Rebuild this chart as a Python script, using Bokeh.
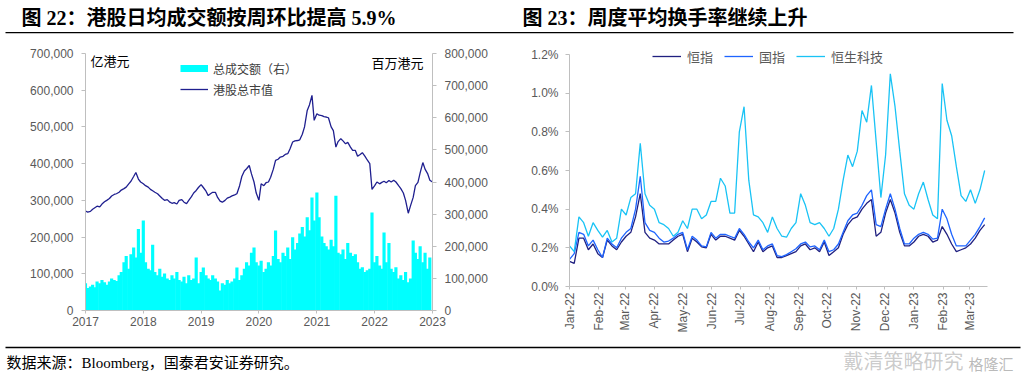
import math
from datetime import datetime
import pandas as pd
from bokeh.plotting import figure
from bokeh.models import (Range1d, LinearAxis, SingleIntervalTicker, FixedTicker,
                          NumeralTickFormatter, PrintfTickFormatter, DatetimeTickFormatter,
                          Legend, LegendItem, Label, BoxAnnotation)
from bokeh.layouts import column, row
from bokeh.embed import file_html
from bokeh.resources import INLINE

# ---------------- data ----------------
title_left = "图 22：港股日均成交额按周环比提高 5.9%"
title_right = "图 23：周度平均换手率继续上升"
source_text = "数据来源：Bloomberg，国泰君安证券研究。"

# HK market cap (亿港元, thousands), semi-monthly from 2017-01-01
mcap_2017 = [271, 268, 270, 276, 280, 284, 282, 290, 296, 300, 305, 312, 316, 318, 322, 328, 332, 336, 345, 352, 365, 376, 358, 350]
mcap_2018 = [345, 340, 336, 330, 326, 322, 318, 312, 305, 300, 302, 296, 292, 294, 290, 300, 302, 295, 291, 300, 310, 320, 327, 335]
mcap_2019 = [343, 335, 325, 313, 318, 322, 322, 308, 298, 295, 300, 306, 309, 312, 315, 318, 340, 365, 380, 386, 395, 372, 350, 320]
mcap_2020 = [300, 345, 340, 348, 350, 363, 385, 409, 412, 418, 420, 425, 427, 440, 459, 462, 463, 465, 480, 500, 545, 560, 586, 518]
mcap_2021 = [536, 532, 531, 528, 527, 525, 500, 490, 445, 460, 468, 462, 454, 458, 445, 436, 436, 420, 425, 430, 420, 410, 400, 330]
mcap_2022 = [340, 350, 345, 349, 352, 348, 354, 350, 355, 350, 340, 332, 320, 300, 265, 285, 308, 340, 349, 375, 403, 385, 373, 355]
mcap_2023 = [350]

# total turnover (百万港元, thousands), semi-monthly from 2017-01-01
turn_2017 = [85, 70, 75, 80, 72, 90, 85, 95, 88, 80, 90, 100, 95, 92, 110, 120, 150, 170, 130, 175, 196, 165, 254, 180]
turn_2018 = [280, 150, 130, 125, 205, 120, 110, 130, 105, 115, 100, 95, 110, 100, 120, 95, 90, 105, 85, 110, 95, 100, 165, 85]
turn_2019 = [120, 134, 110, 100, 95, 110, 100, 90, 62, 85, 80, 95, 85, 90, 100, 134, 95, 110, 130, 150, 140, 180, 196, 150]
turn_2020 = [140, 155, 120, 130, 150, 140, 170, 249, 160, 150, 180, 170, 196, 160, 228, 190, 210, 240, 260, 230, 290, 250, 352, 280]
turn_2021 = [367, 290, 230, 210, 200, 190, 220, 200, 357, 180, 175, 190, 160, 210, 180, 170, 175, 150, 130, 135, 120, 125, 130, 305]
turn_2022 = [150, 170, 140, 130, 243, 150, 210, 130, 120, 135, 100, 110, 95, 120, 88, 100, 218, 180, 160, 200, 150, 180, 130, 165]

left_years = [2017, 2018, 2019, 2020, 2021, 2022, 2023]

# weekly turnover rate (%), every 5 days from 2022-01-01
hsi = [0.13, 0.12, 0.25, 0.25, 0.19, 0.22, 0.17, 0.15, 0.24, 0.21, 0.19, 0.23, 0.26, 0.28, 0.36, 0.48,
       0.28, 0.25, 0.24, 0.22, 0.22, 0.22, 0.24, 0.26, 0.27, 0.18, 0.25, 0.23, 0.205, 0.20, 0.27, 0.24,
       0.26, 0.26, 0.25, 0.24, 0.29, 0.26, 0.22, 0.18, 0.23, 0.18, 0.20, 0.21, 0.15, 0.15, 0.16, 0.17,
       0.18, 0.21, 0.22, 0.19, 0.20, 0.18, 0.23, 0.16, 0.18, 0.20, 0.27, 0.32, 0.35, 0.36, 0.40, 0.43,
       0.45, 0.26, 0.28, 0.38, 0.45, 0.38, 0.28, 0.21, 0.21, 0.23, 0.26, 0.27, 0.26, 0.23, 0.24, 0.31,
       0.27, 0.22, 0.18, 0.19, 0.20, 0.22, 0.25, 0.29, 0.32]
hscei = [0.14, 0.17, 0.28, 0.27, 0.21, 0.24, 0.19, 0.15, 0.25, 0.22, 0.20, 0.25, 0.28, 0.30, 0.40, 0.57,
         0.33, 0.29, 0.28, 0.25, 0.23, 0.235, 0.25, 0.27, 0.28, 0.19, 0.26, 0.24, 0.21, 0.205, 0.28, 0.25,
         0.27, 0.27, 0.26, 0.25, 0.30, 0.27, 0.23, 0.20, 0.24, 0.19, 0.21, 0.22, 0.16, 0.155, 0.165, 0.18,
         0.195, 0.22, 0.23, 0.205, 0.21, 0.19, 0.24, 0.18, 0.19, 0.22, 0.28, 0.34, 0.37, 0.38, 0.42, 0.47,
         0.50, 0.32, 0.31, 0.40, 0.48, 0.40, 0.30, 0.22, 0.22, 0.25, 0.27, 0.28, 0.27, 0.245, 0.25, 0.40,
         0.35, 0.27, 0.21, 0.21, 0.21, 0.24, 0.27, 0.31, 0.355]
hstech = [0.21, 0.18, 0.36, 0.33, 0.26, 0.33, 0.29, 0.255, 0.29, 0.23, 0.25, 0.40, 0.37, 0.46, 0.48, 0.74,
          0.48, 0.42, 0.40, 0.33, 0.32, 0.30, 0.26, 0.28, 0.34, 0.30, 0.40, 0.40, 0.35, 0.37, 0.44, 0.44,
          0.56, 0.52, 0.38, 0.38, 0.80, 0.93, 0.55, 0.37, 0.36, 0.33, 0.28, 0.36, 0.30, 0.26, 0.255, 0.30,
          0.33, 0.48, 0.42, 0.33, 0.32, 0.33, 0.30, 0.26, 0.30, 0.40, 0.55, 0.68, 0.62, 0.70, 0.91, 0.85,
          1.04, 0.75, 0.46, 0.68, 1.10, 0.93, 0.70, 0.48, 0.42, 0.40, 0.48, 0.54, 0.45, 0.37, 0.35, 1.05,
          0.86, 0.78, 0.62, 0.47, 0.44, 0.50, 0.43, 0.50, 0.60]
series_names = ["恒指", "国指", "恒生科技"]
series_colors = ["#202080", "#1E64FF", "#19C3F5"]
rate_ticks = [0.0, 0.2, 0.4, 0.6, 0.8, 1.0, 1.2]

# ---------------- derived ----------------
mcap = mcap_2017 + mcap_2018 + mcap_2019 + mcap_2020 + mcap_2021 + mcap_2022 + mcap_2023
turn = turn_2017 + turn_2018 + turn_2019 + turn_2020 + turn_2021 + turn_2022
mcap_dates = pd.date_range("2017-01-01", periods=len(mcap), freq="SMS")
turn_dates = pd.date_range("2017-01-01", periods=len(turn), freq="SMS")
rate_dates = pd.date_range("2022-01-01", periods=len(hsi), freq="5D")

SANS = "Liberation Sans"
CJK = "Noto Sans CJK SC"
MIX = "Liberation Sans, Noto Sans CJK SC"
SERIF_MIX = "Liberation Serif, Noto Sans CJK SC"
TICK_COLOR = "#595959"
AXIS_COLOR = "#BFBFBF"


def ms(ts):
    return pd.Timestamp(ts).timestamp() * 1000.0


def style_axis(ax, standoff, tick_out=4):
    ax.axis_line_color = AXIS_COLOR
    ax.axis_line_width = 1
    ax.major_tick_line_color = AXIS_COLOR
    ax.major_tick_in = 0
    ax.major_tick_out = tick_out
    ax.minor_tick_line_color = None
    ax.major_label_text_font = SANS
    ax.major_label_text_font_size = "12px"
    ax.major_label_text_color = TICK_COLOR
    ax.major_label_standoff = standoff


# ---------------- header ----------------
header = figure(width=1024, height=36, x_range=Range1d(0, 1024), y_range=Range1d(36, 0),
                x_axis_type=None, y_axis_type=None, toolbar_location=None,
                output_backend="svg", min_border=0, outline_line_color=None)
for txt, xx in [(title_left, 21), (title_right, 522)]:
    header.add_layout(Label(x=xx, y=17, text=txt, text_font=SERIF_MIX, text_font_style="bold",
                            text_font_size="20px", text_baseline="middle", text_align="left",
                            text_color="#000000"))
header.add_layout(BoxAnnotation(left=5, right=1013, top=31.4, bottom=32.8, fill_color="#000000",
                                fill_alpha=1, line_color=None))

# ---------------- left chart ----------------
L_X0, L_X1 = datetime(2017, 1, 1), datetime(2023, 1, 1)
p1 = figure(width=520, height=304, x_axis_type="datetime",
            x_range=Range1d(L_X0, L_X1),
            y_range=Range1d(0, 700000), toolbar_location=None, output_backend="svg",
            min_border_left=85, min_border_right=88, min_border_top=17, min_border_bottom=30)
p1.outline_line_color = None
p1.xgrid.grid_line_color = None
p1.ygrid.grid_line_color = None
p1.extra_y_ranges = {"turnover": Range1d(0, 800000)}

turn_scaled = [v * 1000 for v in turn]
bars = p1.vbar(x=turn_dates, top=turn_scaled, width=20 * 86400000,
               y_range_name="turnover", fill_color="#00FFFF", line_color=None)
mline = p1.line(x=mcap_dates, y=[v * 1000 for v in mcap], line_color="#1F1F8F", line_width=1.3)
bar_proxy = p1.line(x=turn_dates, y=turn_scaled, y_range_name="turnover",
                    line_color="#00FFFF", line_width=7, visible=False)

p1.yaxis[0].ticker = SingleIntervalTicker(interval=100000)
p1.yaxis[0].formatter = NumeralTickFormatter(format="0,0")
style_axis(p1.yaxis[0], 8)
rax = LinearAxis(y_range_name="turnover", ticker=SingleIntervalTicker(interval=100000),
                 formatter=NumeralTickFormatter(format="0,0"))
style_axis(rax, 8)
p1.add_layout(rax, "right")
p1.xaxis.ticker = FixedTicker(ticks=[ms(f"{y}-01-01") for y in left_years])
p1.xaxis.formatter = DatetimeTickFormatter(years="%Y", months="%Y", days="%Y")
style_axis(p1.xaxis[0], 3, 3)

leg1 = Legend(items=[LegendItem(label="总成交额（右）", renderers=[bar_proxy]),
                     LegendItem(label="港股总市值", renderers=[mline])],
              location=(95, 211), orientation="vertical")
leg1.background_fill_alpha = 0
leg1.border_line_color = None
leg1.inactive_fill_alpha = 0
leg1.padding = 0
leg1.margin = 0
leg1.spacing = 1
leg1.glyph_width = 28
leg1.glyph_height = 20
leg1.label_height = 20
leg1.label_standoff = 5
leg1.label_text_font = MIX
leg1.label_text_font_size = "12px"
leg1.label_text_color = "#404040"
p1.add_layout(leg1)


def lx(px):  # left frame pixel (85..432) -> data x
    return ms(L_X0) + (px - 85) / 347.0 * (ms(L_X1) - ms(L_X0))


def ly(py):  # left frame pixel (53..310) -> left-axis value
    return (310 - py) / 257.0 * 700000


p1.add_layout(Label(x=lx(90), y=ly(60), text="亿港元",
                    text_font=CJK, text_font_size="13px", text_baseline="middle",
                    text_align="left", text_color="#000000"))
p1.add_layout(Label(x=lx(423), y=ly(62), text="百万港元",
                    text_font=CJK, text_font_size="13px", text_baseline="middle",
                    text_align="right", text_color="#000000"))

# ---------------- right chart ----------------
# frame spans page y 44..286; the 0..1.2% axis occupies 54..286 (193.33 px per 1%)
R_X0, R_X1 = datetime(2022, 1, 1), datetime(2023, 3, 20)
p2 = figure(width=504, height=304, x_axis_type="datetime",
            x_range=Range1d(R_X0, R_X1),
            y_range=Range1d(0, 1.2 + 10 / 193.33), toolbar_location=None, output_backend="svg",
            min_border_left=49, min_border_right=37, min_border_top=8, min_border_bottom=54)
p2.outline_line_color = None
p2.xgrid.grid_line_color = None
p2.ygrid.grid_line_color = None

for p in (p1, p2):
    if hasattr(p, "frame_align"):
        p.frame_align = False

renderers = []
for vals, color in zip([hsi, hscei, hstech], series_colors):
    renderers.append(p2.line(x=rate_dates, y=vals, line_color=color, line_width=1.3))

p2.yaxis.ticker = FixedTicker(ticks=rate_ticks)
p2.yaxis.formatter = PrintfTickFormatter(format="%.1f%%")
p2.yaxis.bounds = (0, rate_ticks[-1] + 1e-9)
style_axis(p2.yaxis[0], 7)
month_ticks = pd.date_range("2022-01-01", "2023-03-01", freq="MS")
p2.xaxis.ticker = FixedTicker(ticks=[ms(t) for t in month_ticks])
p2.xaxis.formatter = DatetimeTickFormatter(months="%b-%y", days="%b-%y", hours="%b-%y",
                                           years="%b-%y")
p2.xaxis.major_label_orientation = math.pi / 2
style_axis(p2.xaxis[0], 3, 3)

leg2 = Legend(items=[LegendItem(label=n, renderers=[r]) for n, r in zip(series_names, renderers)],
              location=(83, 220), orientation="horizontal")
leg2.background_fill_alpha = 0
leg2.border_line_color = None
leg2.padding = 0
leg2.margin = 0
leg2.spacing = 11
leg2.glyph_width = 29
leg2.glyph_height = 20
leg2.label_height = 20
leg2.label_standoff = 6
leg2.label_text_font = MIX
leg2.label_text_font_size = "13px"
leg2.label_text_color = TICK_COLOR
p2.add_layout(leg2)

# ---------------- footer ----------------
footer = figure(width=1024, height=38, x_range=Range1d(0, 1024), y_range=Range1d(38, 0),
                x_axis_type=None, y_axis_type=None, toolbar_location=None,
                output_backend="svg", min_border=0, outline_line_color=None)
footer.add_layout(BoxAnnotation(left=5, right=1020, top=6.3, bottom=7.7, fill_color="#000000",
                                fill_alpha=1, line_color=None))
footer.add_layout(Label(x=6, y=22, text=source_text, text_font=SERIF_MIX,
                        text_font_size="15px", text_baseline="middle", text_align="left",
                        text_color="#000000"))
footer.add_layout(Label(x=843, y=20, text="戴清策略研究", text_font=CJK,
                        text_font_size="20px", text_baseline="middle", text_align="left",
                        text_color="#8C8C8C", text_alpha=0.45))
footer.add_layout(Label(x=968, y=23, text="格隆汇", text_font=CJK,
                        text_font_size="15px", text_baseline="middle", text_align="left",
                        text_color="#8C8C8C", text_alpha=0.6))

layout = column(header, row(p1, p2), footer)
open("out.html", "w").write(file_html(layout, INLINE))
